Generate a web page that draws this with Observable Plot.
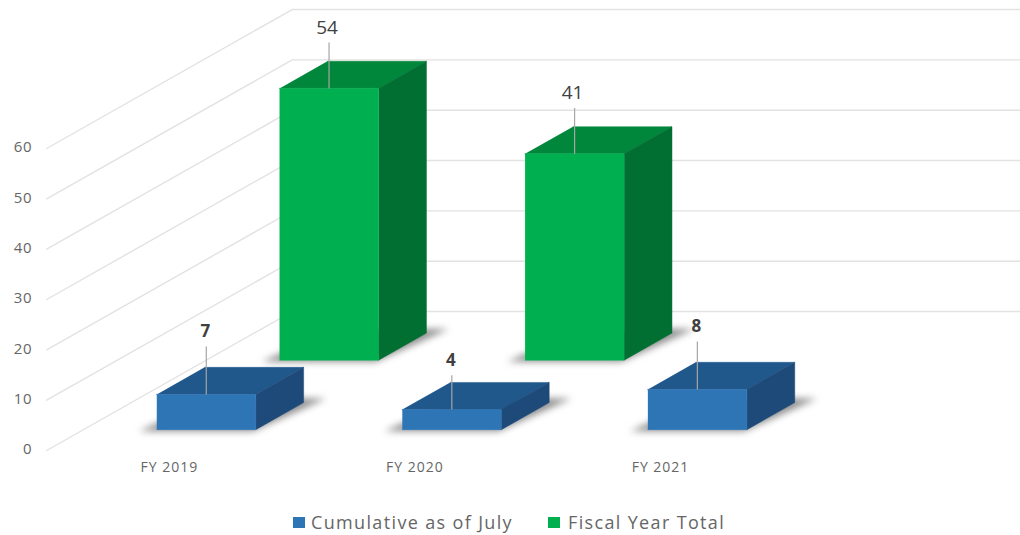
<!DOCTYPE html>
<html>
<head>
<meta charset="utf-8">
<script src="https://cdn.jsdelivr.net/npm/d3@7"></script>
<script src="https://cdn.jsdelivr.net/npm/@observablehq/plot@0.6"></script>
<style>
  html, body { margin: 0; padding: 0; background: #fff; }
  body { width: 1020px; height: 535px; overflow: hidden; font-family: "Open Sans", sans-serif; }
  #legend { height: 30px; position: relative; color: #666; font-size: 18px; letter-spacing: 1.35px; line-height: 30px; }
  #legend span { position: absolute; top: 2px; white-space: nowrap; }
  #legend i { position: absolute; top: 12px; width: 12px; height: 11px; }
  g[aria-label="x-axis tick label"] { letter-spacing: 1px; }
  g[aria-label="y-axis tick label"] { letter-spacing: 0.8px; }
</style>
</head>
<body>
<div id="chart"></div>
<div id="legend"></div>
<script>
// ---- data ----
const categories = ["FY 2019", "FY 2020", "FY 2021"];
const cumulative = [7, 4, 8];
const fiscalTotal = [54, 41, null];
const yTicks = [0, 10, 20, 30, 40, 50, 60];
const seriesNames = ["Cumulative as of July", "Fiscal Year Total"];

// ---- oblique projection, in scale units ----
const halfWidth = 0.2016;   // half a bar, in category steps
const barDepth = 0.195;     // bar depth, as a share of the floor depth
const zLift = 27.6;         // value units a point rises from the front to the back of the floor
const xMax = 3.466;
const P = (cat, off, z, v) => ({x: cat + off + z, y: v + z * zLift});

function faces(values, z0) {
  const z1 = z0 + barDepth, hw = halfWidth;
  const front = [], top = [], side = [], shadow = [];
  const add = (out, id, pts) => pts.forEach(p => out.push({...p, id}));
  values.forEach((v, i) => {
    if (v == null) return;
    add(front, i, [P(i,-hw,z0,0), P(i,hw,z0,0), P(i,hw,z0,v), P(i,-hw,z0,v)]);
    add(top, i, [P(i,-hw,z0,v), P(i,hw,z0,v), P(i,hw,z1,v), P(i,-hw,z1,v)]);
    add(side, i, [P(i,hw,z0,0), P(i,hw,z1,0), P(i,hw,z1,v), P(i,hw,z0,v)]);
    add(shadow, i, [P(i,-hw-0.06,z0-0.012,0), P(i,hw,z0-0.012,0), P(i,hw+0.06,z1+0.03,0), P(i,-hw,z1+0.03,0)]);
  });
  return {front, top, side, shadow};
}
const poly = (data, fill) =>
  Plot.line(data, {x: "x", y: "y", z: "id", fill, stroke: fill, strokeWidth: 0.5});
const shadowPoly = data =>
  Plot.line(data, {x: "x", y: "y", z: "id", fill: "#4a4a4a", stroke: "none", fillOpacity: 0.62,
    render: (index, scales, values, dimensions, context, next) => {
      const g = next(index, scales, values, dimensions, context);
      g.style.filter = "blur(3.5px)";
      return g;
    }});

const blueDepth = 0.15, greenDepth = 0.65;
const blue = faces(cumulative, blueDepth);
const green = faces(fiscalTotal, greenDepth);

function leaders(values, z0, lift) {
  return values.flatMap((v, i) => v == null ? [] : [{
    v, p: P(i, 0, z0, v), q: P(i, 0, z0, v + lift(v))
  }]).map(d => ({label: d.v, x1: d.p.x, y1: d.p.y, x2: d.q.x, y2: d.q.y}));
}
const blueLabels = leaders(cumulative, blueDepth, v => v < 5 ? 6.8 : 9.5);
const greenLabels = leaders(fiscalTotal, greenDepth, () => 9.1);

// ---- wall and floor lines ----
const gridLines = yTicks.flatMap(t => [
  {id: t, x: -0.5, y: t},
  {id: t, x: 0.5, y: t + zLift},
  {id: t, x: xMax, y: t + zLift}
]);

const chart = Plot.plot({
  width: 1020,
  height: 505,
  marginTop: 0, marginRight: 0, marginBottom: 55, marginLeft: 32,
  x: {domain: [-0.688, xMax], range: [0, 1020]},
  y: {domain: [0, 89.4], range: [450, 0]},
  style: {background: "#fff", fontFamily: "'Open Sans', sans-serif"},
  marks: [
    Plot.line(gridLines, {x: "x", y: "y", z: "id", stroke: "#e2e2e2", strokeWidth: 1.4}),
    Plot.axisY({ticks: yTicks, tickSize: 0, tickPadding: 0, dy: -1, fontSize: 15, fill: "#666", label: null}),
    Plot.axisX({ticks: [0, 1, 2], tickFormat: i => categories[i], tickSize: 0, tickPadding: 12, fontSize: 14, fill: "#666", label: null}),

    shadowPoly(green.shadow),
    poly(green.top, "#00873c"),
    poly(green.side, "#006f31"),
    poly(green.front, "#00b050"),

    shadowPoly(blue.shadow),
    poly(blue.top, "#21588c"),
    poly(blue.side, "#1d4a79"),
    poly(blue.front, "#2e75b6"),

    Plot.link(greenLabels, {x1: "x1", y1: "y1", x2: "x2", y2: "y2", stroke: "#a6a6a6", strokeWidth: 1.2}),
    Plot.link(blueLabels, {x1: "x1", y1: "y1", x2: "x2", y2: "y2", stroke: "#a6a6a6", strokeWidth: 1.2}),
    Plot.text(greenLabels, {x: "x2", y: "y2", text: "label", dy: -15, dx: -2, fontSize: 19, fill: "#404040"}),
    Plot.text(blueLabels, {x: "x2", y: "y2", text: "label", dy: -15, dx: -1, fontSize: 17, fontWeight: 700, fill: "#404040"})
  ]
});
document.getElementById("chart").appendChild(chart);

// ---- legend below the svg ----
const legend = document.getElementById("legend");
const colours = ["#2e75b6", "#00b050"];
const swatchX = [293, 548], labelX = [311, 568];
seriesNames.forEach((name, i) => {
  const sw = document.createElement("i");
  sw.style.left = swatchX[i] + "px"; sw.style.background = colours[i];
  const s = document.createElement("span");
  s.style.left = labelX[i] + "px"; s.textContent = name;
  legend.append(sw, s);
});
</script>
</body>
</html>
